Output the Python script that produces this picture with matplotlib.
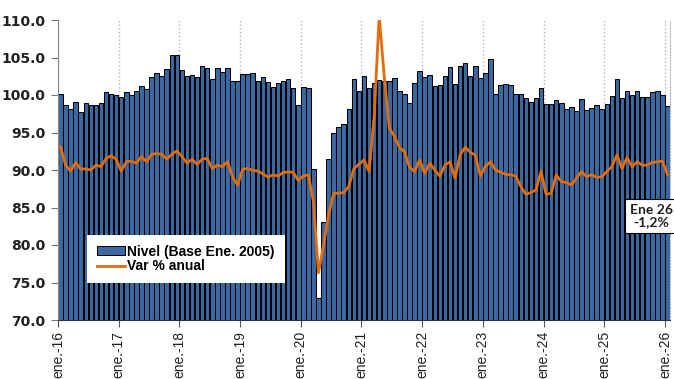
import matplotlib as mpl
mpl.use('Agg')
import matplotlib.pyplot as plt
import numpy as np

# indice mensual, ene-2016 .. ene-2026
nivel = [
    100.2, 98.7, 98.2, 99.1, 97.7, 98.9, 98.7, 98.7, 99.0, 100.4, 100.1, 100.0,   # 2016
    99.7, 100.4, 100.0, 100.6, 101.2, 100.8, 102.4, 103.0, 102.6, 103.4, 105.3, 105.3,  # 2017
    103.3, 102.6, 102.7, 102.4, 103.9, 103.6, 102.2, 103.6, 103.1, 103.6, 101.9, 101.9,  # 2018
    102.8, 102.8, 102.9, 101.9, 102.4, 101.7, 101.1, 101.6, 101.9, 102.1, 100.9, 98.7,  # 2019
    101.1, 101.0, 90.2, 72.9, 83.1, 91.4, 95.0, 95.7, 96.1, 98.1, 102.1, 100.5,  # 2020
    102.5, 101.0, 101.6, 102.0, 101.9, 101.9, 102.3, 100.6, 100.2, 99.0, 101.6, 103.2,  # 2021
    102.4, 102.7, 101.2, 101.3, 102.6, 103.7, 101.5, 103.9, 104.3, 102.5, 103.9, 102.3,  # 2022
    103.0, 104.8, 100.1, 101.3, 101.4, 101.3, 100.1, 100.2, 99.6, 99.1, 99.6, 101.0,  # 2023
    98.8, 98.8, 99.3, 99.0, 98.1, 98.4, 97.9, 99.4, 98.0, 98.3, 98.7, 98.2,  # 2024
    98.8, 99.9, 102.2, 99.6, 100.6, 100.0, 100.5, 99.8, 99.8, 100.4, 100.6, 100.0,  # 2025
    98.6,  # 2026
]

var_anual = [
    6.2, 1.3, -0.3, 2.0, 0.2, 0.3, 0.0, 1.3, 0.9, 3.1, 3.8, 2.9,
    -0.3, 2.2, 2.4, 1.8, 3.6, 2.2, 4.2, 4.4, 4.2, 2.9, 4.2, 5.1,
    3.6, 1.8, 2.9, 1.5, 2.9, 3.1, 0.4, 1.3, 0.9, 2.2, -1.8, -4.0,
    0.2, 0.4, -0.1, -0.3, -1.0, -1.9, -1.3, -1.6, -0.7, -0.5, -0.6, -2.8,
    -1.6, -1.3, -8.4, -27.4, -20.0, -12.0, -6.2, -6.2, -6.0, -4.4, 0.4, 1.5,
    2.7, -0.4, 14.0, 41.0, 25.0, 11.1, 9.1, 6.0, 4.9, 0.8, -0.4, 2.7,
    -0.9, 1.8, 0.0, -1.7, 1.3, 2.2, -2.2, 4.0, 6.1, 4.7, 4.0, -1.6,
    1.0, 2.2, 0.0, -0.6, -1.1, -1.3, -1.6, -4.4, -6.5, -6.0, -5.3, -0.3,
    -6.5, -6.2, -1.3, -3.1, -3.3, -4.0, -2.2, -0.4, -1.8, -1.2, -2.0, -1.8,
    -0.4, 0.9, 4.0, 0.4, 3.3, 0.9, 2.2, 1.3, 1.3, 2.0, 2.2, 2.4,
    -1.2,
]

anios = ["ene.-16", "ene.-17", "ene.-18", "ene.-19", "ene.-20", "ene.-21",
         "ene.-22", "ene.-23", "ene.-24", "ene.-25", "ene.-26"]

bar_color = '#3b6aa3'
line_color = '#e46c0a'
grid_color = '#b4b4b4'

fig = plt.figure(figsize=(6.74, 3.79), dpi=100)
ax = fig.add_axes([58/674., 1 - 320/379., 612/674., 300/379.])

x = np.arange(len(nivel))
bars = ax.bar(x, nivel, width=0.9, color=bar_color, edgecolor='black',
              linewidth=0.75, zorder=2, label='Nivel (Base Ene. 2005)')

ax.set_xlim(-0.5, len(nivel) - 0.5)
ax.set_ylim(70, 110)
ax.set_yticks(np.arange(70, 110.1, 5))
ax.set_yticklabels(["%.1f" % v for v in np.arange(70, 110.1, 5)],
                   fontsize=10, fontweight='bold', family='DejaVu Sans', color='#222222')

ticks_x = np.arange(0, len(nivel), 12) - 0.5
ax.set_xticks(ticks_x)
ax.set_xticklabels(anios, rotation=90, fontsize=10, family='Liberation Sans', color='#222222')
ax.tick_params(axis='x', length=5, width=0.8, color='#555555', pad=3)
ax.tick_params(axis='y', length=5, width=0.8, color='#777777', pad=4)

ax.xaxis.grid(True, color=grid_color, linestyle=':', linewidth=1.0, zorder=0)
ax.set_axisbelow(True)

ax.spines['top'].set_visible(False)
ax.spines['right'].set_color(grid_color)
ax.spines['right'].set_linestyle(':')
ax.spines['left'].set_color('#888888')
ax.spines['bottom'].set_color('#333333')

# variacion anual sobre eje secundario oculto
ax2 = ax.twinx()
line, = ax2.plot(x, var_anual, color=line_color, linewidth=2.0,
                 solid_joinstyle='round', label='Var % anual')
ax2.set_ylim(-40, 40)
ax2.set_yticks([])
for s in ax2.spines.values():
    s.set_visible(False)

leg = ax2.legend([bars, line], ['Nivel (Base Ene. 2005)', 'Var % anual'],
                 loc='upper left', bbox_to_anchor=((87 - 58) / 612., (320 - 235) / 300.),
                 borderaxespad=0, frameon=True, fancybox=False,
                 prop={'family': 'Liberation Sans', 'weight': 'bold', 'size': 10},
                 handlelength=2.0, handleheight=0.6, handletextpad=0.2,
                 labelspacing=0.05, borderpad=0.7)
leg.get_frame().set_facecolor('white')
leg.get_frame().set_edgecolor('none')
leg.get_frame().set_alpha(1)

ultimo = ("Ene 26\n%.1f%%" % var_anual[-1]).replace('.', ',')
fig.text(651/674., 1 - 216/379., ultimo, ha='center', va='center',
         fontsize=10, fontweight='bold', family='Lato', color='#222222',
         linespacing=1.1,
         bbox=dict(boxstyle='square,pad=0.3', fc='white', ec='black', lw=0.8))

plt.savefig('out.png', dpi=100)
